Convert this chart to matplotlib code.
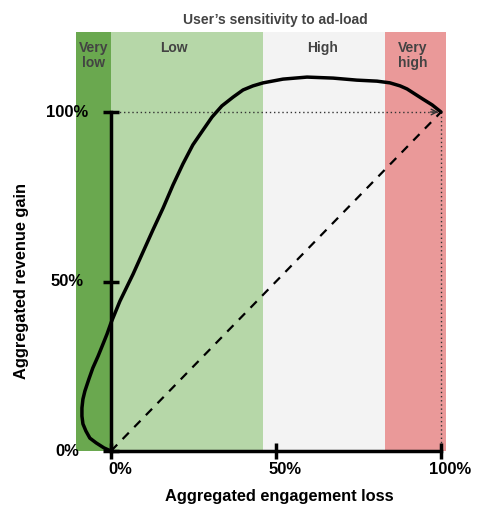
import numpy as np
import matplotlib
matplotlib.use("Agg")
import matplotlib.pyplot as plt

plt.rcParams['font.family'] = ['Liberation Sans', 'DejaVu Sans']

# sensitivity bands (x range in engagement-loss fraction)
band_names = [['Very', 'low'], ['Low'], ['High'], ['Very', 'high']]
band_start = [-0.106, 0.0, 0.46, 0.83]
band_end = [0.0, 0.46, 0.83, 1.015]
band_colors = ['#6aa84f', '#b6d7a8', '#f3f3f3', '#ea9999']

# revenue gain vs engagement loss curve
loss = [0.0, -0.021, -0.045, -0.064, -0.076, -0.085, -0.088, -0.088, -0.085,
        -0.079, -0.067, -0.055, -0.039, -0.024, -0.012, 0.0, 0.027, 0.067,
        0.097, 0.127, 0.158, 0.188, 0.218, 0.248, 0.279, 0.306, 0.336, 0.370,
        0.400, 0.430, 0.461, 0.521, 0.594, 0.673, 0.745, 0.806, 0.845, 0.876,
        0.897, 0.921, 0.945, 0.973, 1.0]
gain = [0.0, 0.009, 0.024, 0.038, 0.059, 0.080, 0.103, 0.127, 0.153, 0.177,
        0.212, 0.245, 0.280, 0.316, 0.345, 0.378, 0.442, 0.522, 0.587, 0.652,
        0.717, 0.785, 0.847, 0.903, 0.947, 0.985, 1.018, 1.044, 1.065, 1.077,
        1.086, 1.097, 1.103, 1.100, 1.094, 1.091, 1.086, 1.077, 1.068, 1.053,
        1.038, 1.021, 1.0]

xticks = [0, 0.5, 1.0]
xticklabels = ['0%', '50%', '100%']
yticks = [0, 0.5, 1.0]
yticklabels = ['0%', '50%', '100%']

W, H = 498, 516
fig = plt.figure(figsize=(W / 100, H / 100), dpi=100)
ax = fig.add_axes([76/W, (H-451)/H, 370/W, 419/H])
ax.set_xlim(-0.106, 1.015)
ax.set_ylim(0, 1.236)
ax.axis('off')

# band labels are not quite centred in the original
label_x = [-0.054, 0.19, 0.64, 0.915]
for s, e, c, lines, lx in zip(band_start, band_end, band_colors, band_names, label_x):
    ax.axvspan(s, e, color=c, lw=0, zorder=0)
    for i, ln in enumerate(lines):
        ax.annotate(ln, xy=(lx, 1 - (48 + 15 * i) / H),
                    xycoords=('data', 'figure fraction'),
                    ha='center', va='center', fontsize=10, fontweight='bold',
                    color='#434343')

fig.text(275/W, 1 - 20/H, "User\u2019s sensitivity to ad-load", ha='center',
         va='center', fontsize=10, fontweight='bold', color='#434343')

# axes lines and ticks
ax.plot([0, 0], [0, 1], color='black', lw=2.5, zorder=3, clip_on=False)
ax.plot([0, 1], [0, 0], color='black', lw=2.5, zorder=3, clip_on=False)
ax.plot([0] * len(yticks), yticks, ls='none', marker='_', ms=12, mew=2.5,
        color='black', zorder=3, clip_on=False)
ax.plot(xticks, [0] * len(xticks), ls='none', marker='|', ms=12, mew=2.5,
        color='black', zorder=3, clip_on=False)

for v, lab in zip(yticks, yticklabels):
    ax.text(-0.133, v, lab, ha='center', va='center', fontsize=12,
            fontweight='bold', clip_on=False)
for v, lab in zip(xticks, xticklabels):
    ax.text(v + 0.027, -0.054, lab, ha='center', va='center', fontsize=12,
            fontweight='bold', clip_on=False)

# reference lines
ax.plot([0, 1], [1, 1], color='#333333', lw=1, ls=(0, (1, 2)), zorder=2)
ax.plot([1, 1], [0, 1], color='#333333', lw=1, ls=(0, (1, 2)), zorder=2)
ax.plot([0, 1], [0, 1], color='black', lw=1.6, ls=(0, (4, 3.5)), zorder=2)
ax.annotate('', xy=(1.0, 1.0), xytext=(0.96, 1.0),
            arrowprops=dict(arrowstyle='->', lw=1, color='#333333'))

ax.plot(loss, gain, color='black', lw=2.5, zorder=4, solid_capstyle='round',
        solid_joinstyle='round', clip_on=False)

fig.text(279/W, 1 - 497/H, 'Aggregated engagement loss', ha='center',
         va='center', fontsize=11.8, fontweight='bold')
fig.text(22/W, 1 - 281/H, 'Aggregated revenue gain', ha='center',
         va='center', rotation=90, fontsize=11.8, fontweight='bold')

fig.savefig('out.png', dpi=100)
